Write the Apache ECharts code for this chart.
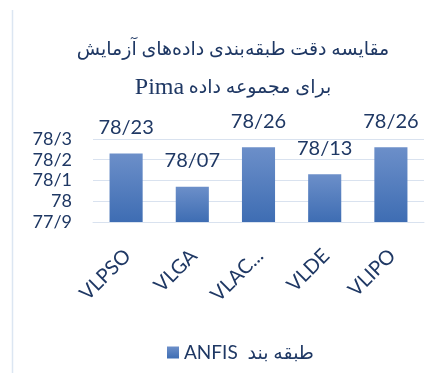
<!DOCTYPE html>
<html>
<head>
<meta charset="utf-8">
<style>
  html, body { margin: 0; padding: 0; background: #ffffff; }
  #chart { width: 442px; height: 373px; }
</style>
<script src="https://cdn.jsdelivr.net/npm/echarts@6/dist/echarts.min.js"></script>
</head>
<body>
<div id="chart"></div>
<script>
// Classification accuracy per optimiser (ANFIS classifier, Pima dataset)
const categories = ['VLPSO', 'VLGA', 'VLACO', 'VLDE', 'VLIPO'];
const accuracy = [78.23, 78.07, 78.26, 78.13, 78.26];
const seriesName = 'طبقه بند ANFIS';
const yTicks = { min: 77.9, max: 78.3, interval: 0.1 };
const titleLine1 = 'مقایسه دقت طبقه\u200Cبندی داده\u200Cهای آزمایش';
const titleLine2Fa = 'برای مجموعه داده';
const datasetName = 'Pima';

const slashDecimal = (v, d) => String(Number(v.toFixed(d))).replace('.', '/');

const ink = '#1F3864';
const titleFont = '"Liberation Serif", "DejaVu Sans", serif';
const chart = echarts.init(document.getElementById('chart'), null, { renderer: 'canvas' });

chart.setOption({
  animation: false,
  backgroundColor: '#ffffff',
  title: {
    // second line is laid out visually: Latin name on the left, Persian run on the right
    text: '{fa|' + titleLine1 + '}\n{en|' + datasetName + '}{fa| ' + titleLine2Fa + '}',
    left: 233,
    textAlign: 'center',
    top: 31,
    padding: 0,
    textStyle: {
      fontWeight: 'normal',
      rich: {
        fa: {
          fontFamily: titleFont,
          fontSize: 19,
          fontWeight: 'normal',
          color: ink,
          lineHeight: 38
        },
        en: {
          fontFamily: titleFont,
          fontSize: 24,
          fontWeight: 'normal',
          color: ink,
          lineHeight: 38
        }
      }
    }
  },
  legend: {
    left: 162,
    top: 338,
    itemWidth: 12,
    itemHeight: 12,
    itemGap: 6,
    textStyle: {
      fontFamily: 'Lato, "DejaVu Sans", sans-serif',
      fontSize: 19,
      color: ink
    },
    data: [{ name: seriesName, icon: 'rect' }],
    formatter: () => 'ANFIS  ' + 'طبقه بند'
  },
  grid: { left: 93, right: 18, top: 139, bottom: 151, containLabel: false },
  xAxis: {
    type: 'category',
    data: categories,
    axisLine: { show: true, lineStyle: { color: '#D9E2EF', width: 1 } },
    axisTick: { show: false },
    axisLabel: {
      rotate: 45,
      margin: 32,
      padding: [0, -2, 0, 0],
      fontFamily: 'Lato, "DejaVu Sans", sans-serif',
      fontSize: 20,
      color: ink,
      formatter: v => (v === 'VLACO' ? 'VLAC...' : v)
    }
  },
  yAxis: {
    type: 'value',
    min: yTicks.min,
    max: yTicks.max,
    interval: yTicks.interval,
    axisLine: { show: false },
    axisTick: { show: false },
    splitLine: { lineStyle: { color: '#D9E2EF', width: 1 } },
    axisLabel: {
      margin: 21,
      fontFamily: 'Lato, "DejaVu Sans", sans-serif',
      fontSize: 18,
      color: ink,
      formatter: v => slashDecimal(v, 2)
    }
  },
  graphic: [{
    type: 'line',
    shape: { x1: 12.5, y1: 10, x2: 12.5, y2: 373 },
    style: { stroke: '#DCE6F2', lineWidth: 1.5 },
    silent: true
  }],
  series: [{
    name: seriesName,
    type: 'bar',
    data: accuracy,
    barWidth: '50%',
    itemStyle: {
      color: new echarts.graphic.LinearGradient(0, 0, 0, 1, [
        { offset: 0, color: '#6C8FC9' },
        { offset: 1, color: '#3E6DB3' }
      ])
    },
    label: {
      show: true,
      position: 'top',
      distance: 16,
      fontFamily: 'Lato, "DejaVu Sans", sans-serif',
      fontSize: 20,
      color: ink,
      formatter: p => p.value.toFixed(2).replace('.', '/')
    }
  }]
});
</script>
</body>
</html>
